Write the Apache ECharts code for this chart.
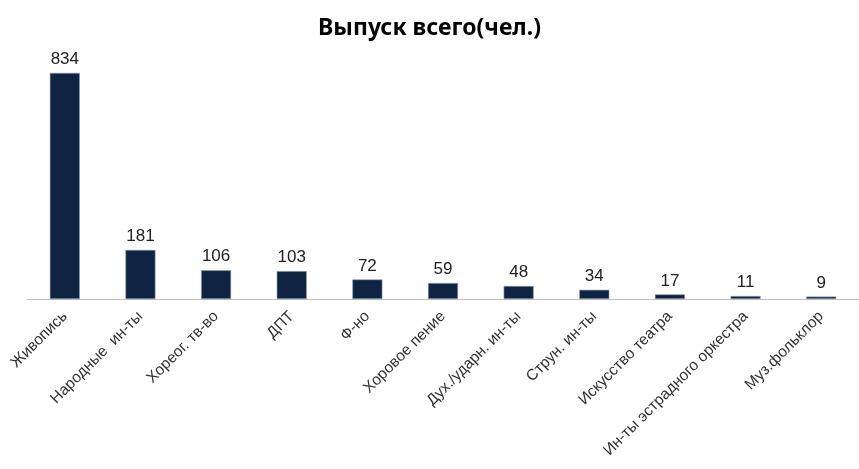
<!DOCTYPE html>
<html>
<head>
<meta charset="utf-8">
<script src="https://cdn.jsdelivr.net/npm/echarts@6/dist/echarts.min.js"></script>
<style>
  html, body { margin: 0; padding: 0; background: #fff; }
  #chart { width: 859px; height: 469px; }
</style>
</head>
<body>
<div id="chart"></div>
<script>
const categories = [
  "Живопись",
  "Народные  ин-ты",
  "Хореог. тв-во",
  "ДПТ",
  "Ф-но",
  "Хоровое пение",
  "Дух./ударн. ин-ты",
  "Струн. ин-ты",
  "Искусство театра",
  "Ин-ты эстрадного оркестра",
  "Муз.фольклор",
];
const graduates = [834, 181, 106, 103, 72, 59, 48, 34, 17, 11, 9];

const chart = echarts.init(document.getElementById("chart"));
const option = {
  animation: false,
  title: {
    text: "Выпуск всего(чел.)",
    left: "center",
    top: 12,
    textStyle: {
      fontFamily: "Noto Sans",
      fontWeight: "bold",
      fontSize: 23,
      color: "#000",
    },
  },
  grid: {
    left: 27,
    width: 839,
    top: 55,
    bottom: 170,
  },
  xAxis: {
    type: "category",
    data: categories,
    axisLine: { lineStyle: { color: "#bfbfbf", width: 1 } },
    axisTick: { length: 5, lineStyle: { color: "#bfbfbf" } },
    axisLabel: {
      interval: 0,
      rotate: 45,
      margin: 15,
      fontFamily: "Liberation Sans",
      fontSize: 15.5,
      color: "#333",
    },
  },
  yAxis: {
    type: "value",
    min: 0,
    max: 900,
    show: false,
    splitLine: { show: false },
  },
  series: [
    {
      type: "bar",
      data: graduates,
      barWidth: 30,
      itemStyle: {
        color: "#0f2443",
        borderColor: "#8c9ab0",
        borderWidth: 0.6,
      },
      label: {
        show: true,
        position: "top",
        distance: 5,
        fontFamily: "Liberation Sans",
        fontSize: 17,
        color: "#222",
      },
    },
  ],
};
chart.setOption(option);
</script>
</body>
</html>
